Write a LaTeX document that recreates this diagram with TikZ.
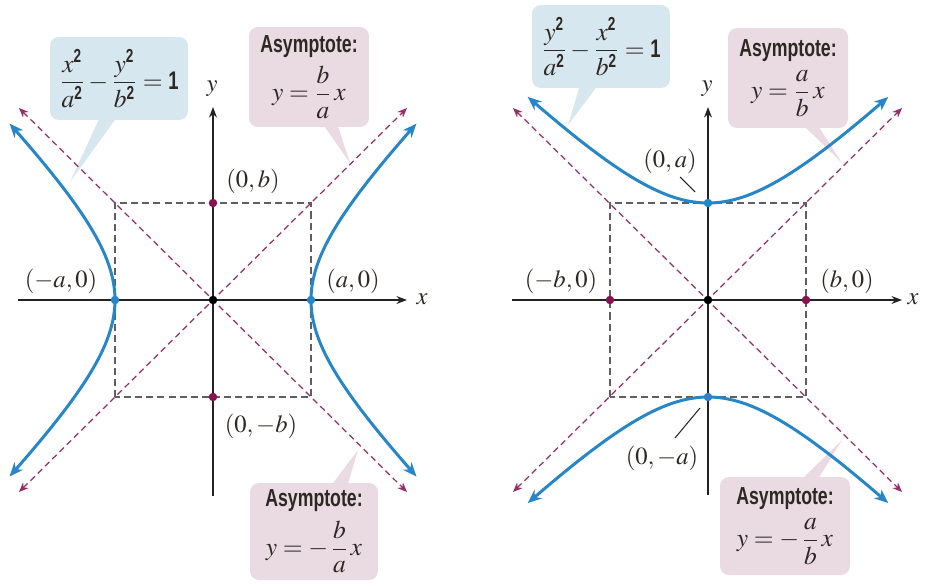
\documentclass[tikz,border=0pt]{standalone}
\usepackage{amsmath}
\usepackage{mathptmx}
\usepackage{fontspec}
\setmainfont{Liberation Serif}
\newfontfamily\notefont[FakeStretch=0.72]{Liberation Sans}
\usetikzlibrary{arrows.meta,calc}

\definecolor{hypblue}{RGB}{38,134,200}
\definecolor{asympurple}{RGB}{150,45,105}
\definecolor{dotpurple}{RGB}{135,20,80}
\definecolor{noteblue}{RGB}{214,231,240}
\definecolor{notepink}{RGB}{234,219,226}
\definecolor{boxgray}{RGB}{95,95,95}
\definecolor{axisgray}{RGB}{35,35,35}
\definecolor{labelgray}{RGB}{45,40,35}

\newcommand{\bsf}[1]{\text{\notefont\bfseries #1}}
\newcommand{\asytitle}{{\notefont\bfseries\fontsize{14}{15}\selectfont Asymptote:}}

\begin{document}
\begin{tikzpicture}[x=0.02cm,y=0.02cm,>=Stealth,font=\fontsize{14}{16}\selectfont,
  note/.style={rounded corners=0.18cm,inner sep=0pt,align=center,text=labelgray,font=\fontsize{14.5}{16}\selectfont},
  bluenote/.style={note,fill=noteblue},
  pinknote/.style={note,fill=notepink},
  curve/.style={hypblue,line width=1.7pt,{Stealth[length=8pt,width=6.5pt]}-{Stealth[length=8pt,width=6.5pt]}},
  asym/.style={asympurple,line width=0.7pt,dash pattern=on 3.5pt off 2.3pt,{Stealth[length=5.5pt,width=4.5pt]}-{Stealth[length=5.5pt,width=4.5pt]}},
  guide/.style={boxgray,line width=0.8pt,dash pattern=on 4pt off 2.3pt},
  axis/.style={axisgray,line width=0.7pt,-{Stealth[length=6pt,width=4.5pt]}},
  leader/.style={axisgray,line width=0.6pt},
  dot/.style={circle,inner sep=0pt,minimum size=0.17cm},
  lab/.style={text=labelgray}]
\useasboundingbox (0,0) rectangle (925,583);

% callouts sit behind the curves
\node[bluenote,minimum width=2.76cm,minimum height=1.66cm] (LeqNote) at (119,504.5)
  {$\dfrac{x^{\bsf{2}}}{a^{\bsf{2}}}-\dfrac{y^{\bsf{2}}}{b^{\bsf{2}}}=\bsf{1}$};
\coordinate (LeqTip) at (70,401);
\fill[noteblue] (100,466) -- (117,466) -- (LeqTip) -- cycle;
\node[pinknote,minimum width=2.4cm,minimum height=2cm] (LposNote) at (309,506)
  {\asytitle\\[4pt] $y=\dfrac{b}{a}\,x$};
\coordinate (LposTip) at (350,420);
\fill[notepink] (322,460) -- (337,460) -- (LposTip) -- cycle;
\node[pinknote,minimum width=2.56cm,minimum height=1.94cm] (LnegNote) at (314,51.5)
  {\asytitle\\[4pt] $y=-\,\dfrac{b}{a}\,x$};
\coordinate (LnegTip) at (358,133);
\fill[notepink] (330,96) -- (347,96) -- (LnegTip) -- cycle;

\node[bluenote,minimum width=2.76cm,minimum height=1.66cm] (ReqNote) at (601,536.5)
  {$\dfrac{y^{\bsf{2}}}{a^{\bsf{2}}}-\dfrac{x^{\bsf{2}}}{b^{\bsf{2}}}=\bsf{1}$};
\coordinate (ReqTip) at (568,458);
\fill[noteblue] (580,498) -- (598,498) -- (ReqTip) -- cycle;
\node[pinknote,minimum width=2.4cm,minimum height=2cm] (RposNote) at (788,505)
  {\asytitle\\[4pt] $y=\dfrac{a}{b}\,x$};
\coordinate (RposTip) at (842,420);
\fill[notepink] (802,459) -- (817,459) -- (RposTip) -- cycle;
\node[pinknote,minimum width=2.6cm,minimum height=1.96cm] (RnegNote) at (785,57)
  {\asytitle\\[4pt] $y=-\,\dfrac{a}{b}\,x$};
\coordinate (RnegTip) at (842,143);
\fill[notepink] (800,102) -- (817,102) -- (RnegTip) -- cycle;

% left panel: x^2/a^2 - y^2/b^2 = 1
\begin{scope}[shift={(213,283)}]
  \draw[guide] (-98,-97) rectangle (98,97);
  \coordinate (LaSW) at (-194,-192); \coordinate (LaNE) at (194,192);
  \coordinate (LaNW) at (-194,192);  \coordinate (LaSE) at (194,-192);
  \draw[asym] (LaSW) -- (LaNE);
  \draw[asym] (LaNW) -- (LaSE);
  \coordinate (LxFrom) at (-195,0); \coordinate (LxTo) at (194,0);
  \coordinate (LyFrom) at (0,-196); \coordinate (LyTo) at (0,193);
  \draw[axis] (LxFrom) -- (LxTo);
  \draw[axis] (LyFrom) -- (LyTo);
  \node[lab] (LxName) at (209,1) {$x$};
  \node[lab] (LyName) at (-1,211) {$y$};
  \draw[curve] plot[domain=-1.36:1.36,samples=60] ({98*cosh(\x)},{97*sinh(\x)});
  \draw[curve] plot[domain=-1.36:1.36,samples=60] ({-98*cosh(\x)},{97*sinh(\x)});
  \node[dot,fill=dotpurple] (Lb) at (0,97) {};
  \node[dot,fill=dotpurple] (Lmb) at (0,-97) {};
  \node[dot,fill=hypblue] (La) at (98,0) {};
  \node[dot,fill=hypblue] (Lma) at (-98,0) {};
  \node[dot,fill=black] (LO) at (0,0) {};
  \node[lab] (LbLab) at (40,119) {$(0,b)$};
  \node[lab] (LmbLab) at (48,-126) {$(0,-b)$};
  \node[lab] (LaLab) at (140,19) {$(a,0)$};
  \node[lab] (LmaLab) at (-152,19) {$(-a,0)$};
\end{scope}

% right panel: y^2/a^2 - x^2/b^2 = 1
\begin{scope}[shift={(708,283)}]
  \draw[guide] (-98,-97) rectangle (98,97);
  \coordinate (RaSW) at (-195,-192); \coordinate (RaNE) at (194,192);
  \coordinate (RaNW) at (-195,192);  \coordinate (RaSE) at (194,-192);
  \draw[asym] (RaSW) -- (RaNE);
  \draw[asym] (RaNW) -- (RaSE);
  \coordinate (RxFrom) at (-196,0); \coordinate (RxTo) at (194,0);
  \coordinate (RyFrom) at (0,-195); \coordinate (RyTo) at (0,193);
  \draw[axis] (RxFrom) -- (RxTo);
  \draw[axis] (RyFrom) -- (RyTo);
  \node[lab] (RxName) at (205,1) {$x$};
  \node[lab] (RyName) at (-1,211) {$y$};
  \draw[curve] plot[domain=-1.37:1.37,samples=60] ({98*sinh(\x)},{97*cosh(\x)});
  \draw[curve] plot[domain=-1.37:1.37,samples=60] ({98*sinh(\x)},{-97*cosh(\x)});
  \node[dot,fill=dotpurple] (Rb) at (98,0) {};
  \node[dot,fill=dotpurple] (Rmb) at (-98,0) {};
  \node[dot,fill=hypblue] (Ra) at (0,97) {};
  \node[dot,fill=hypblue] (Rma) at (0,-97) {};
  \node[dot,fill=black] (RO) at (0,0) {};
  \node[lab] (RaLab) at (-38,139) {$(0,a)$};
  \node[lab] (RmaLab) at (-46,-158) {$(0,-a)$};
  \node[lab] (RbLab) at (139,19) {$(b,0)$};
  \node[lab] (RmbLab) at (-147,19) {$(-b,0)$};
  \coordinate (RaLead) at (-28,123); \coordinate (RaLeadEnd) at (-13,108);
  \draw[leader] (RaLead) -- (RaLeadEnd);
  \coordinate (RmaLead) at (-33,-138); \coordinate (RmaLeadEnd) at (-8,-108);
  \draw[leader] (RmaLead) -- (RmaLeadEnd);
\end{scope}
\end{tikzpicture}
\end{document}
